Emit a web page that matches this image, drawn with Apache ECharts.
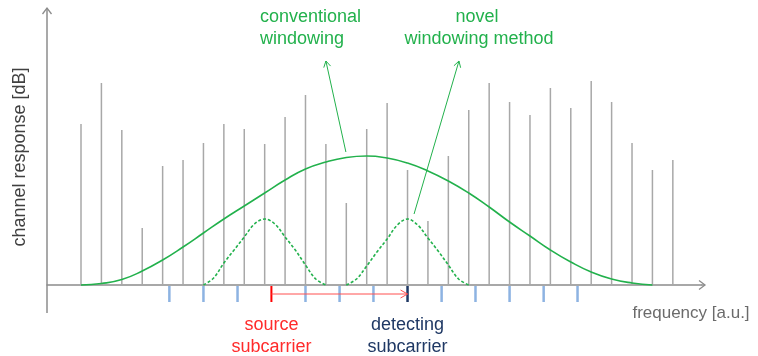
<!DOCTYPE html>
<html><head><meta charset="utf-8">
<script src="https://cdn.jsdelivr.net/npm/echarts@6/dist/echarts.min.js"></script>
<style>html,body{margin:0;padding:0;background:#fff}#c{width:758px;height:356px}</style>
</head><body><div id="c"></div>
<script>
// ---- data (x in subcarrier index units, y in response units) ----
const stemX = [0,1,2,3,4,5,6,7,8,9,10,11,12,13,14,15,16,17,18,19,20,21,22,23,24,25,26,27,28,29];
const stemH = [161,202,155,57,119,125,142,161,156,141,168,190,141,82,156,182,115,64,129,175,202,183,170,197,177,204,183,142,115,125];

const convX = [0,1,2,3,4,5,6,7,8,9,10,11,12,13,14,15,16,17,18,19,20,21,22,23,24,25,26,27,28];
const convY = [0,1.5,5.5,14,25,38,52,66,79,92,105,116,123,127.5,129,127,122,114,104,92,78,63,49,35,23,13,6,2,0];

const novel1X = [6,6.5,7,7.5,8,8.5,9,9.5,10,10.5,11,11.5,12];
const novel1Y = [0,7,22,35,48,61,66,61,48,35,20,6,0];
const novel2X = [13,13.5,14,14.5,15,15.5,16,16.5,17,17.5,18,18.5,19];
const novel2Y = [0,6,19,33,46,60,66,60,47,34,20,6,0];

const tickX = [4.33,6,7.67,9.33,11,12.67,14.33,16,17.67,19.33,21,22.67,24.33];
const sourceIdx = 3;
const detectIdx = 7;

const convArrow = [[12.98,133],[12.0,224]];
const novelArrow = [[16.32,71],[18.52,224]];
const linkY = -9;

const yLabel = 'channel response [dB]';
const xLabel = 'frequency [a.u.]';
const convLabel = ['conventional','windowing'];
const novelLabel = ['novel','windowing method'];
const sourceLabel = ['source','subcarrier'];
const detectLabel = ['detecting','subcarrier'];

// ---- styles ----
const GREEN = '#22b14c', RED = '#ff2b2b', NAVY = '#1f3864', BLUE = '#8db3e2', AXIS = '#8c8c8c', STEM = '#a8a8a8';
const FONT = '"Liberation Sans", Arial, sans-serif';
const XMIN = -1.666, XMAX = 30.38, YMIN = -28, YMAX = 273;

const zip = (a, b) => a.map((v, i) => [v, b[i]]);

const chart = echarts.init(document.getElementById('c'), null, {renderer: 'canvas'});
const option = {
  animation: false,
  grid: {left: 47, right: 57, top: 12, bottom: 43},
  xAxis: {
    type: 'value', min: XMIN, max: XMAX,
    axisLine: {onZero: true, lineStyle: {color: AXIS, width: 1.5}},
    axisTick: {show: false}, axisLabel: {show: false}, splitLine: {show: false}
  },
  yAxis: {
    type: 'value', min: YMIN, max: YMAX,
    axisLine: {show: false},
    axisTick: {show: false}, axisLabel: {show: false}, splitLine: {show: false}
  },
  series: [
    {
      type: 'custom', z: 2,
      data: zip(stemX, stemH),
      renderItem: (params, api) => {
        const a = api.coord([api.value(0), 0]);
        const b = api.coord([api.value(0), api.value(1)]);
        return {type: 'line', shape: {x1: a[0], y1: a[1], x2: b[0], y2: b[1]},
          style: {stroke: STEM, lineWidth: 1.5}};
      }
    },
    {
      type: 'custom', z: 3,
      data: tickX.map((x, i) => [x, i]),
      renderItem: (params, api) => {
        const i = api.value(1);
        const a = api.coord([api.value(0), -1]);
        const b = api.coord([api.value(0), -17]);
        let color = BLUE, w = 2.5;
        if (i === sourceIdx) { color = '#ff0000'; w = 2; }
        if (i === detectIdx) { color = NAVY; w = 2.5; }
        return {type: 'line', shape: {x1: a[0], y1: a[1], x2: b[0], y2: b[1]},
          style: {stroke: color, lineWidth: w}};
      }
    },
    {
      type: 'line', z: 5, smooth: 0.5, symbol: 'none',
      data: zip(convX, convY),
      lineStyle: {color: GREEN, width: 1.6}
    },
    {
      type: 'line', z: 5, smooth: 0.35, symbol: 'none',
      data: zip(novel1X, novel1Y),
      lineStyle: {color: GREEN, width: 1.6, type: [3, 2]}
    },
    {
      type: 'line', z: 5, smooth: 0.35, symbol: 'none',
      data: zip(novel2X, novel2Y),
      lineStyle: {color: GREEN, width: 1.6, type: [3, 2]}
    },
    {
      type: 'line', z: 6, symbol: 'none', data: convArrow,
      lineStyle: {color: GREEN, width: 1}
    },
    {
      type: 'line', z: 6, symbol: 'none', data: novelArrow,
      lineStyle: {color: GREEN, width: 1}
    },
    {
      type: 'line', z: 6, symbol: 'none',
      data: [[tickX[sourceIdx], linkY], [tickX[detectIdx], linkY]],
      lineStyle: {color: '#ff5050', width: 1}
    }
  ]
};
chart.setOption(option);

const px = p => chart.convertToPixel({gridIndex: 0}, p);
function chevron(tail, tip, color, L, W, lw) {
  const dx = tip[0] - tail[0], dy = tip[1] - tail[1];
  const len = Math.hypot(dx, dy);
  const ux = dx / len, uy = dy / len, nx = -uy, ny = ux;
  return {
    type: 'polyline', z: 20, silent: true,
    shape: {points: [
      [tip[0] - L * ux + W * nx, tip[1] - L * uy + W * ny],
      [tip[0], tip[1]],
      [tip[0] - L * ux - W * nx, tip[1] - L * uy - W * ny]
    ]},
    style: {stroke: color, lineWidth: lw, fill: null}
  };
}
function text(str, x, y, color, size, align, rot) {
  return {
    type: 'text', z: 20, silent: true, x: x, y: y, rotation: rot || 0,
    style: {text: str, fill: color, font: size + 'px ' + FONT,
      align: align || 'center', verticalAlign: 'middle'}
  };
}

const yBot = px([XMIN, YMIN]), yTop = px([XMIN, YMAX]);
const yTip = [yTop[0], yTop[1] - 4];
const xStart = px([XMIN, 0]), xEnd = px([XMAX, 0]);
const xTip = [xEnd[0] + 4, xEnd[1]];

const srcP = px([tickX[sourceIdx], 0]);
const detP = px([tickX[detectIdx], 0]);
const linkA = px([tickX[sourceIdx], linkY]);
const linkB = px([tickX[detectIdx], linkY]);

const graphics = [
  {type: 'line', z: 4, silent: true, shape: {x1: yBot[0], y1: yBot[1], x2: yTip[0], y2: yTip[1]},
    style: {stroke: AXIS, lineWidth: 1.5}},
  {type: 'line', z: 4, silent: true, shape: {x1: xEnd[0], y1: xEnd[1], x2: xTip[0], y2: xTip[1]},
    style: {stroke: AXIS, lineWidth: 1.5}},
  chevron(yBot, yTip, AXIS, 6, 4.5, 1.3),
  chevron(xStart, xTip, AXIS, 6, 4.5, 1.3),
  chevron(px(convArrow[0]), px(convArrow[1]), GREEN, 6, 3.5, 1),
  chevron(px(novelArrow[0]), px(novelArrow[1]), GREEN, 6, 3.5, 1),
  chevron(linkA, linkB, '#ff5050', 7, 4, 1),
  text(yLabel, 20, 157, '#404040', 18, 'center', Math.PI / 2),
  text(xLabel, 691, 313, '#6b6b6b', 17, 'center'),
  text(convLabel[0], 260, 17, GREEN, 18, 'left'),
  text(convLabel[1], 260, 39, GREEN, 18, 'left'),
  text(novelLabel[0], 477, 17, GREEN, 18, 'center'),
  text(novelLabel[1], 479, 39, GREEN, 18, 'center'),
  text(sourceLabel[0], srcP[0], 325, RED, 18, 'center'),
  text(sourceLabel[1], srcP[0], 347, RED, 18, 'center'),
  text(detectLabel[0], detP[0], 325, NAVY, 18, 'center'),
  text(detectLabel[1], detP[0], 347, NAVY, 18, 'center')
];
chart.setOption({graphic: graphics});
</script>
</body></html>
